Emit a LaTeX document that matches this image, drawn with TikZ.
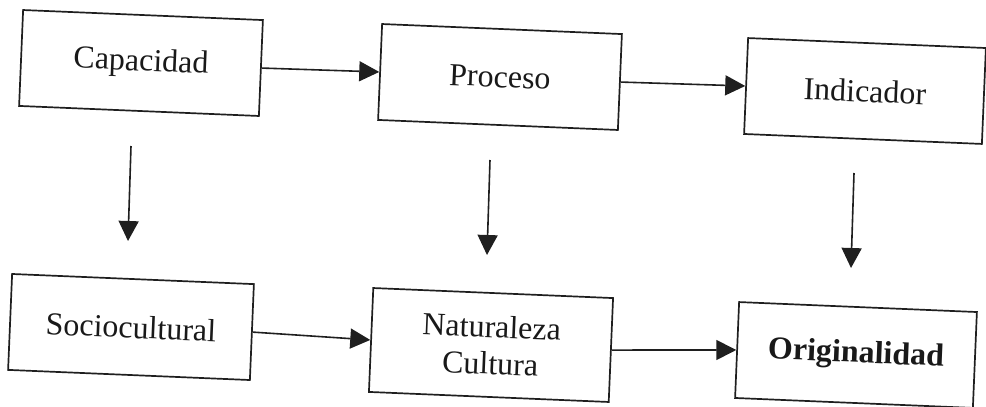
\documentclass[tikz,border=0pt]{standalone}
\usepackage{fontspec}
\setmainfont{Liberation Serif}
\usetikzlibrary{arrows.meta}
\begin{document}
\begin{tikzpicture}[x=1pt,y=-1pt,
  box/.style={draw=black!88, line width=1.7pt, minimum width=240pt, minimum height=96pt,
    inner sep=0pt, align=center, rotate=-2.4, text=black!90,
    font=\fontsize{32}{37}\selectfont},
  conn/.style={draw=black!88, line width=1.6pt, -{Triangle[length=20pt,width=20pt]}}]
\useasboundingbox (0,0) rectangle (986,407);
\node[box] (cap) at (141,63) {Capacidad};
\node[box] (pro) at (500,77) {Proceso};
\node[box, minimum width=238pt] (ind) at (865,91) {Indicador};
\node[box, minimum width=242pt] (soc) at (131,327) {Sociocultural};
\node[box, minimum height=104pt] (nat) at (491,345) {Naturaleza\\Cultura};
\node[box, minimum width=238pt, font=\fontsize{32}{37}\selectfont\bfseries] (ori) at (856,355) {Originalidad};
\coordinate (d1s) at (131,146);
\coordinate (d1e) at (128,241);
\coordinate (d2s) at (490,160);
\coordinate (d2e) at (487,255);
\coordinate (d3s) at (854,173);
\coordinate (d3e) at (851,268);
\draw[conn] (cap.east) -- (pro.west);
\draw[conn] (pro.east) -- (ind.west);
\draw[conn] (soc.east) -- (nat.west);
\draw[conn] (nat.east) -- (ori.west);
\draw[conn] (d1s) -- (d1e);
\draw[conn] (d2s) -- (d2e);
\draw[conn] (d3s) -- (d3e);
\end{tikzpicture}
\end{document}
